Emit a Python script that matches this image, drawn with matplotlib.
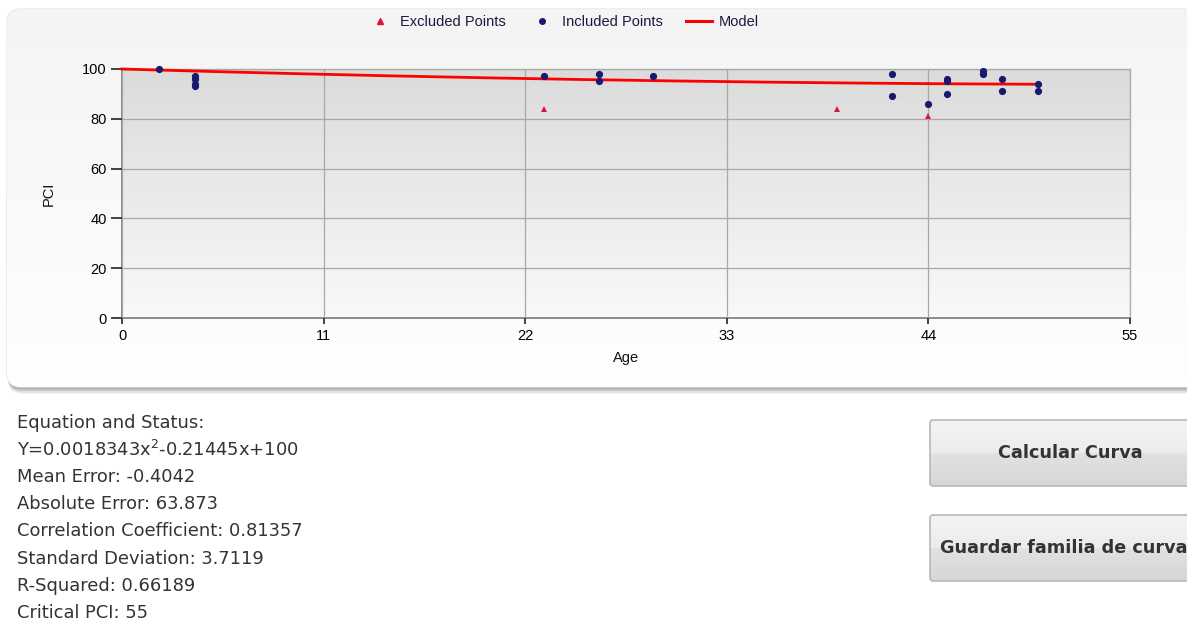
import numpy as np
import matplotlib
matplotlib.use("Agg")
import matplotlib.pyplot as plt
from matplotlib.patches import FancyBboxPatch
from matplotlib.lines import Line2D

# --- data -------------------------------------------------------------
included_age = [2, 4, 4, 4, 4, 23, 26, 26, 29, 42, 42, 44, 45, 45, 45, 47, 47, 48, 48, 50, 50]
included_pci = [100, 97, 96, 94, 93, 97, 98, 95, 97, 98, 89, 86, 96, 95, 90, 99, 98, 96, 91, 94, 91]
excluded_age = [23, 39, 44]
excluded_pci = [84, 84, 81]
coef_a, coef_b, coef_c = 0.0018343, -0.21445, 100.0
model_age_range = (0, 50)
x_ticks = [0, 11, 22, 33, 44, 55]
y_ticks = [0, 20, 40, 60, 80, 100]

status_lines = [
    "Equation and Status:",
    "Y=0.0018343x$^{2}$-0.21445x+100",
    "Mean Error: -0.4042",
    "Absolute Error: 63.873",
    "Correlation Coefficient: 0.81357",
    "Standard Deviation: 3.7119",
    "R-Squared: 0.66189",
    "Critical PCI: 55",
]
button_labels = ["Calcular Curva", "Guardar familia de curva"]

W, H = 1187, 623
fig = plt.figure(figsize=(W / 100, H / 100), dpi=100)
fig.patch.set_facecolor("white")

# --- background layer in pixel coordinates -----------------------------
bg = fig.add_axes([0, 0, 1, 1], zorder=-10)
bg.set_xlim(0, W)
bg.set_ylim(H, 0)
bg.axis("off")

# drop shadow of the chart panel
for i, a in enumerate([0.05, 0.07, 0.09, 0.12]):
    off = 7 - i * 1.5
    sh = FancyBboxPatch((7 + off * 0.2, 9 + off), 1200, 378,
                        boxstyle="round,pad=0,rounding_size=14",
                        facecolor="black", edgecolor="none", alpha=a)
    bg.add_patch(sh)

panel = FancyBboxPatch((7, 9), 1200, 378, boxstyle="round,pad=0,rounding_size=14",
                       facecolor="none", edgecolor="#e0e0e0", linewidth=0.8)
bg.add_patch(panel)
grad = np.linspace(0, 1, 256).reshape(-1, 1)
c_top = np.array([0.957, 0.957, 0.957])
c_bot = np.array([0.997, 0.997, 0.997])
img = c_top + (c_bot - c_top) * grad[..., None]
im = bg.imshow(img, extent=(7, 1207, 387, 9), aspect="auto", zorder=1)
im.set_clip_path(panel)

# buttons
def draw_button(y0, label, x_text, ha):
    h = 66
    btn = FancyBboxPatch((930, y0), 300, h, boxstyle="round,pad=0,rounding_size=3",
                         facecolor="none", edgecolor="#b8b8b8", linewidth=1.2, zorder=3)
    bg.add_patch(btn)
    g = np.concatenate([np.linspace(0.955, 0.925, 128), np.linspace(0.885, 0.84, 128)])
    gi = np.repeat(g.reshape(-1, 1, 1), 3, axis=2)
    bim = bg.imshow(gi, extent=(930, 1230, y0 + h, y0), aspect="auto", zorder=2)
    bim.set_clip_path(btn)
    bg.text(x_text, y0 + h / 2, label, ha=ha, va="center", fontsize=12.7,
            fontweight="bold", color="#333333", family="DejaVu Sans", zorder=4)

draw_button(420, button_labels[0], 1070, "center")
draw_button(515, button_labels[1], 940, "left")

# status text
for i, line in enumerate(status_lines):
    bg.text(17, 423 + i * 27.1, line, ha="left", va="center", fontsize=12.9,
            color="#333333", family="DejaVu Sans")

# --- chart ------------------------------------------------------------
left, right, top, bottom = 122, 1130, 69, 318
ax = fig.add_axes([left / W, 1 - bottom / H, (right - left) / W, (bottom - top) / H])
ax.set_xlim(0, 55)
ax.set_ylim(0, 100)
ax.set_facecolor("none")

pg = np.linspace(0, 1, 256).reshape(-1, 1)
p_top = np.array([0.86, 0.86, 0.86])
p_bot = np.array([0.975, 0.975, 0.975])
pimg = p_top + (p_bot - p_top) * pg[..., None]
ax.imshow(pimg, extent=(0, 1, 0, 1), transform=ax.transAxes, aspect="auto",
          zorder=0, origin="upper")

ax.set_xticks(x_ticks)
ax.set_yticks(y_ticks)
ax.grid(True, color="#a8a8a8", linewidth=0.9, zorder=1)
ax.set_axisbelow(False)
for s in ["top", "right"]:
    ax.spines[s].set_color("#b0b0b0")
    ax.spines[s].set_linewidth(1.0)
for s in ["left", "bottom"]:
    ax.spines[s].set_color("#8a8a8a")
    ax.spines[s].set_linewidth(1.4)
ax.tick_params(axis="y", direction="out", length=8, width=1.3, color="#333333",
               labelsize=10.5, labelcolor="#000000", pad=3)
ax.tick_params(axis="x", direction="out", length=4, width=1.3, color="#333333",
               labelsize=10.5, labelcolor="#000000", pad=4)
for lab in ax.get_xticklabels() + ax.get_yticklabels():
    lab.set_family("Liberation Sans")

xm = np.linspace(model_age_range[0], model_age_range[1], 200)
ym = coef_a * xm ** 2 + coef_b * xm + coef_c
ax.plot(xm, ym, color="#ff0000", linewidth=2.0, zorder=3, clip_on=False)
ax.plot(included_age, included_pci, "o", color="#191970", markersize=5.2,
        markeredgewidth=0, zorder=4, clip_on=False)
ax.plot(excluded_age, excluded_pci, "^", color="#dc143c", markersize=5,
        markeredgewidth=0, zorder=4, clip_on=False)

ax.set_xlabel("Age", family="Liberation Sans", fontsize=10.5, color="#111111", labelpad=6)
ax.set_ylabel("PCI", family="Liberation Sans", fontsize=10.5, color="#111111", labelpad=19)

handles = [
    Line2D([], [], marker="^", linestyle="none", color="#dc143c", markersize=4),
    Line2D([], [], marker="o", linestyle="none", color="#191970", markersize=4),
    Line2D([], [], color="#ff0000", linewidth=2.2),
]
fig.legend(handles, ["Excluded Points", "Included Points", "Model"], ncol=3,
           loc="center", bbox_to_anchor=(563 / W, 1 - 22 / H), frameon=False,
           prop={"family": "Liberation Sans", "size": 10.5}, handlelength=1.8,
           columnspacing=1.55, handletextpad=0.5, labelcolor="#1a1a40")

fig.savefig("out.png", dpi=100)
